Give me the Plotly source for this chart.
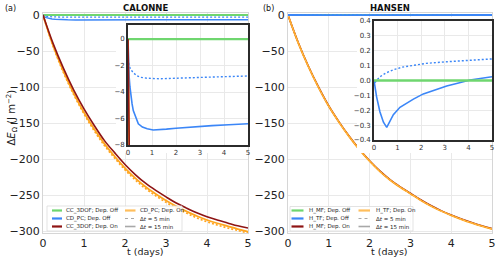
import plotly.graph_objects as go

W, H = 500, 259

# ---------------- data ----------------
t_days = [0, 1, 2, 3, 4, 5]
t_dep = [0, 0.25, 0.5, 0.75, 1.0, 1.25, 1.5, 1.75, 2.0, 2.25, 2.5, 2.75,
         3.0, 3.25, 3.5, 3.75, 4.0, 4.25, 4.5, 4.75, 5.0]
t_flat = [0, 5]

# CALONNE
cal_cc3dof_off = [0, 0]
cal_cdpc_off_15_t = [0, 0.02, 0.05, 0.08, 0.12, 0.17, 0.22, 0.3, 0.43, 0.6, 0.8,
                     1.05, 1.3, 1.6, 2.0, 2.7, 3.5, 4.2, 5.0]
cal_cdpc_off_15 = [0, -1.8, -2.9, -3.6, -4.3, -4.9, -5.4, -5.85, -6.4, -6.65, -6.78,
                   -6.87, -6.85, -6.8, -6.73, -6.62, -6.54, -6.47, -6.4]
cal_cdpc_off_5_t = [0, 0.01, 0.05, 0.1, 0.2, 0.35, 0.5, 0.8, 1.3, 2.0, 2.5, 3.0,
                    3.5, 4.0, 4.5, 5.0]
cal_cdpc_off_5 = [0, -1.6, -2.0, -2.25, -2.5, -2.75, -2.88, -2.96, -3.0, -2.98,
                  -2.95, -2.9, -2.87, -2.84, -2.81, -2.79]
cal_cc3dof_on = [0, -40, -74, -104, -130, -153, -174, -191, -207, -221, -233, -243,
                 -252, -260.5, -267.5, -274, -279.5, -284, -288, -292, -295]
cal_cdpc_on_15 = [0, -43, -78, -108.5, -135, -158, -178.5, -196, -212, -226, -238,
                  -248, -257, -265, -272, -278.5, -284, -288.5, -292.5, -296.5, -300]
cal_cdpc_on_5 = [0, -44, -80, -110.5, -137, -160.5, -181, -198.5, -214.5, -228.5,
                 -240.5, -250.5, -259.5, -267.5, -274.5, -281, -286.5, -291, -295,
                 -298.5, -302]

# HANSEN
han_mf_off = [0, 0]
han_tf_off_15_t = [0, 0.05, 0.11, 0.25, 0.4, 0.54, 0.65, 0.82, 1.1, 1.4, 1.67, 2.09,
                   2.5, 3.08, 3.5, 4.07, 4.5, 5.0]
han_tf_off_15 = [0, -0.05, -0.11, -0.21, -0.28, -0.315, -0.285, -0.23, -0.18, -0.15,
                 -0.125, -0.09, -0.068, -0.037, -0.02, 0.003, 0.013, 0.025]
han_tf_off_5_t = [0, 0.03, 0.1, 0.25, 0.5, 0.82, 1.2, 1.67, 2.2, 3.08, 4.0, 5.0]
han_tf_off_5 = [0, -0.02, 0.0, 0.025, 0.05, 0.072, 0.09, 0.104, 0.115, 0.126, 0.137,
                0.145]
han_mf_on = [0, -38, -71, -100, -126, -148, -168, -186, -202, -216, -228, -238, -247,
             -256, -264, -271, -277, -282.5, -287.5, -292, -296]
han_tf_on = [0, -38.5, -71.5, -100.5, -126.5, -148.5, -168.5, -186.5, -202.5, -216.5,
             -228.5, -238.5, -247.5, -256.5, -264.5, -271.5, -277.5, -283, -288,
             -292.5, -296.5]

main_yticks = [0, -50, -100, -150, -200, -250, -300]
cal_inset_yticks = [0, -2, -4, -6, -8]
han_inset_yticks = [0.4, 0.3, 0.2, 0.1, 0.0, -0.1, -0.2, -0.3, -0.4]

cal_legend = ["CC_3DOF; Dep. Off", "CD_PC; Dep. Off", "CC_3DOF; Dep. On",
              "CD_PC; Dep. On", "Δ<i>t</i> = 5 min", "Δ<i>t</i> = 15 min"]
han_legend = ["H_MF; Dep. Off", "H_TF; Dep. Off", "H_MF; Dep. On",
              "H_TF; Dep. On", "Δ<i>t</i> = 5 min", "Δ<i>t</i> = 15 min"]

x_title = "t (days)"
y_title = "Δ<i>E</i><sub>Ω</sub> (J m<sup>−2</sup>)"

# ---------------- styles ----------------
GREEN = "#6fd66f"
BLUE = "#3b86f7"
RED = "#8e1414"
ORANGE = "#ffa51f"
FONT = "DejaVu Sans"
GRID = "#e9e9e9"


def fx(px):
    return px / W


def fy(py):
    return 1 - py / H


fig = go.Figure()


def add(x, y, ax, color, width, dash="solid", shape="linear"):
    fig.add_trace(go.Scatter(
        x=x, y=y, mode="lines", xaxis="x" + ax, yaxis="y" + ax,
        line=dict(color=color, width=width, dash=dash, shape=shape),
        showlegend=False, hoverinfo="skip"))


DOT = "2px,2px"

# main CALONNE (axis id "")
add(t_flat, cal_cc3dof_off, "", GREEN, 1.8)
add(cal_cdpc_off_5_t, cal_cdpc_off_5, "", BLUE, 1.3, DOT)
add(cal_cdpc_off_15_t, cal_cdpc_off_15, "", BLUE, 1.5)
add(t_dep, cal_cdpc_on_5, "", ORANGE, 1.6, DOT, "spline")
add(t_dep, cal_cdpc_on_15, "", ORANGE, 1.8, "solid", "spline")
add(t_dep, cal_cc3dof_on, "", RED, 1.6, "solid", "spline")

# main HANSEN
add(t_flat, han_mf_off, "2", GREEN, 1.8)
add(t_dep, han_mf_on, "2", RED, 1.6, "solid", "spline")
add(t_dep, han_tf_on, "2", ORANGE, 1.8, "solid", "spline")
add(t_dep, han_tf_on, "2", "#ffc25e", 1.0, DOT, "spline")
add(han_tf_off_5_t, han_tf_off_5, "2", BLUE, 1.3, DOT)
add(han_tf_off_15_t, han_tf_off_15, "2", BLUE, 1.8)

# cover panels (white background behind the insets and their labels)
add([None], [None], "3", "white", 1)
add([None], [None], "4", "white", 1)

# inset CALONNE
add(t_flat, cal_cc3dof_off, "5", GREEN, 2.2)
add(cal_cdpc_off_5_t, cal_cdpc_off_5, "5", BLUE, 1.4, DOT)
add(cal_cdpc_off_15_t, cal_cdpc_off_15, "5", BLUE, 1.6)
add(t_dep, cal_cdpc_on_15, "5", ORANGE, 1.8, "solid", "spline")
add(t_dep, cal_cc3dof_on, "5", RED, 1.6, "solid", "spline")

# inset HANSEN
add(han_tf_off_5_t, han_tf_off_5, "6", BLUE, 1.4, DOT)
add(han_tf_off_15_t, han_tf_off_15, "6", BLUE, 1.6)
add(t_flat, han_mf_off, "6", GREEN, 2.4)

main_y_dom = [fy(233), fy(13)]


def main_x(dom, anchor):
    return dict(domain=dom, anchor=anchor, range=[0, 5], tickvals=t_days,
                showgrid=True, gridcolor=GRID, gridwidth=1, zeroline=False,
                showline=True, linecolor="#d6d6d6", linewidth=1, mirror=True,
                ticks="", tickfont=dict(family=FONT, size=11, color="#222"),
                automargin=False)


def main_y(anchor):
    return dict(domain=main_y_dom, anchor=anchor, range=[-302, 2.8],
                tickvals=main_yticks, showgrid=True, gridcolor=GRID, gridwidth=1,
                zeroline=False, showline=True, linecolor="#d6d6d6", linewidth=1,
                mirror=True, ticks="", automargin=False,
                tickfont=dict(family=FONT, size=11, color="#222"))


def cover(xdom, ydom, anchor):
    return (dict(domain=xdom, anchor="y" + anchor, range=[0, 1], visible=False,
                 showgrid=False, zeroline=False, showticklabels=False),
            dict(domain=ydom, anchor="x" + anchor, range=[0, 1], visible=False,
                 showgrid=False, zeroline=False, showticklabels=False))


def inset_x(dom, anchor):
    return dict(domain=dom, anchor=anchor, range=[0, 5], tickvals=t_days,
                showgrid=True, gridcolor=GRID, zeroline=False, showline=True,
                linecolor="#2b2b2b", linewidth=1.6, mirror=True, ticks="",
                automargin=False,
                tickfont=dict(family=FONT, size=7, color="#333"))


def inset_y(dom, anchor, rng, ticks, fmt):
    return dict(domain=dom, anchor=anchor, range=rng, tickvals=ticks,
                tickformat=fmt, showgrid=True, gridcolor=GRID, zeroline=False,
                showline=True, linecolor="#2b2b2b", linewidth=1.6, mirror=True,
                ticks="", automargin=False,
                tickfont=dict(family=FONT, size=7, color="#333"))


c3x, c3y = cover([fx(116), fx(247)], [fy(153), fy(22)], "3")
c4x, c4y = cover([fx(357), fx(491)], [fy(153), fy(17)], "4")

fig.update_layout(
    width=W, height=H, margin=dict(l=0, r=0, t=0, b=0),
    template="none", paper_bgcolor="white", plot_bgcolor="white",
    showlegend=False,
    xaxis=main_x([fx(43), fx(248)], "y"),
    yaxis=main_y("x"),
    xaxis2=main_x([fx(288), fx(492)], "y2"),
    yaxis2=main_y("x2"),
    xaxis3=c3x, yaxis3=c3y,
    xaxis4=c4x, yaxis4=c4y,
    xaxis5=inset_x([fx(128), fx(248)], "y5"),
    yaxis5=inset_y([fy(145), fy(25)], "x5", [-8, 1.06], cal_inset_yticks, "d"),
    xaxis6=inset_x([fx(374), fx(492)], "y6"),
    yaxis6=inset_y([fy(140), fy(21)], "x6", [-0.4, 0.4], han_inset_yticks, ".1f"),
)

annotations = []
shapes = []


def label(x, y, text, size, bold=False, angle=0, color="#111"):
    annotations.append(dict(
        x=fx(x), y=fy(y), xref="paper", yref="paper", showarrow=False,
        text=("<b>%s</b>" % text) if bold else text, xanchor="center",
        yanchor="middle", textangle=angle,
        font=dict(family=FONT, size=size, color=color)))


label(10, 8, "(a)", 8)
label(145.5, 8, "CALONNE", 8.5, bold=True)
label(268, 8, "(b)", 8)
label(390, 8, "HANSEN", 8.5, bold=True)
label(145.5, 251.5, x_title, 9.5, color="#222")
label(389.5, 251.5, x_title, 9.5, color="#222")
label(11.5, 118, y_title, 10, angle=-90, color="#222")

legend_styles = [
    dict(color=GREEN, width=2.2, dash="solid"),
    dict(color=BLUE, width=2.2, dash="solid"),
    dict(color=RED, width=2.2, dash="solid"),
    dict(color="#ffbe5c", width=2.2, dash="solid"),
    dict(color="#a8a8a8", width=1.0, dash="dot"),
    dict(color="#a8a8a8", width=1.6, dash="solid"),
]


def legend(box, col_x, texts):
    x0, y0, x1, y1 = box
    shapes.append(dict(type="rect", xref="paper", yref="paper",
                       x0=fx(x0), x1=fx(x1), y0=fy(y1), y1=fy(y0),
                       fillcolor="rgba(255,255,255,0.85)",
                       line=dict(color="#dcdcdc", width=0.8), layer="above"))
    rows = [210.5, 218.5, 226.5]
    for i, (txt, st) in enumerate(zip(texts, legend_styles)):
        c = col_x[i // 3]
        ry = rows[i % 3]
        shapes.append(dict(type="line", xref="paper", yref="paper",
                           x0=fx(c[0]), x1=fx(c[1]), y0=fy(ry), y1=fy(ry),
                           line=st, layer="above"))
        annotations.append(dict(
            x=fx(c[2]), y=fy(ry), xref="paper", yref="paper", showarrow=False,
            text=txt, xanchor="left", yanchor="middle",
            font=dict(family=FONT, size=5.5, color="#222")))


legend((47, 206, 182, 231), [(52, 62, 63.5), (125, 135.5, 138)], cal_legend)
legend((290, 206.5, 413, 231), [(291.5, 303.5, 307), (358.5, 370, 373.5)], han_legend)

fig.update_layout(annotations=annotations, shapes=shapes)

fig.write_html("out.html",
               config={"displayModeBar": False},
               post_script="document.body.style.margin='0';"
                           "document.body.style.padding='0';")
